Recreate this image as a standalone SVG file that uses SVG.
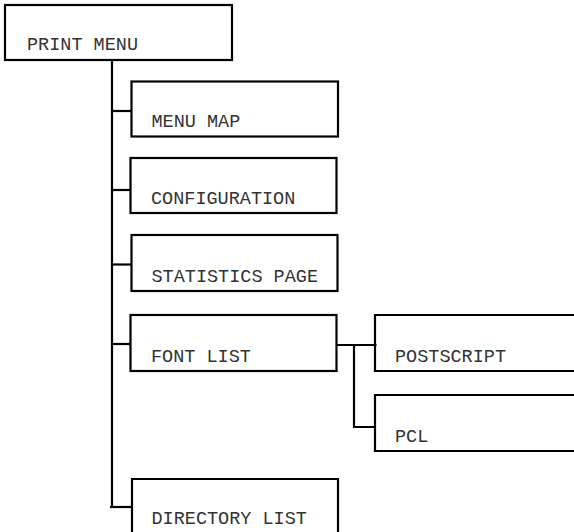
<svg xmlns="http://www.w3.org/2000/svg" width="574" height="532" viewBox="0 0 574 532">
<style>
.box{fill:none;stroke:#000;stroke-width:2.2}
.ln{fill:none;stroke:#000;stroke-width:2.2}
text{font-family:"Liberation Mono","Courier New",monospace;font-size:18.5px;fill:#333}
</style>
<rect width="574" height="532" fill="#fff"/>
<g id="connectors">
<path class="ln" d="M112,60 V507"/>
<path class="ln" d="M111,111 H131.5"/>
<path class="ln" d="M112,190 H130.5"/>
<path class="ln" d="M112,264.5 H131.5"/>
<path class="ln" d="M112,344 H130.5"/>
<path class="ln" d="M110,507 H132"/>
<path class="ln" d="M336.5,345 H376.5"/>
<path class="ln" d="M354,345 V427 H375"/>
</g>
<g id="print-menu"><rect class="box" x="5" y="5" width="227" height="55"/><text x="27" y="50">PRINT MENU</text></g>
<g id="menu-map"><rect class="box" x="131.5" y="81.5" width="206.5" height="55"/><text x="151.5" y="126.5">MENU MAP</text></g>
<g id="configuration"><rect class="box" x="130.5" y="158" width="206" height="55"/><text x="151" y="204">CONFIGURATION</text></g>
<g id="statistics-page"><rect class="box" x="131.5" y="235" width="206" height="56"/><text x="151.5" y="281.5">STATISTICS PAGE</text></g>
<g id="font-list"><rect class="box" x="130.5" y="315" width="206" height="56"/><text x="151" y="361.5">FONT LIST</text></g>
<g id="postscript"><path class="box" d="M575,315 H375 V371 H575"/><text x="395" y="361.5">POSTSCRIPT</text></g>
<g id="pcl"><path class="box" d="M575,395 H375 V451 H575"/><text x="395" y="441.5">PCL</text></g>
<g id="directory-list"><path class="box" d="M132,533 V479 H338 V533"/><text x="151.5" y="524">DIRECTORY LIST</text></g>
</svg>
